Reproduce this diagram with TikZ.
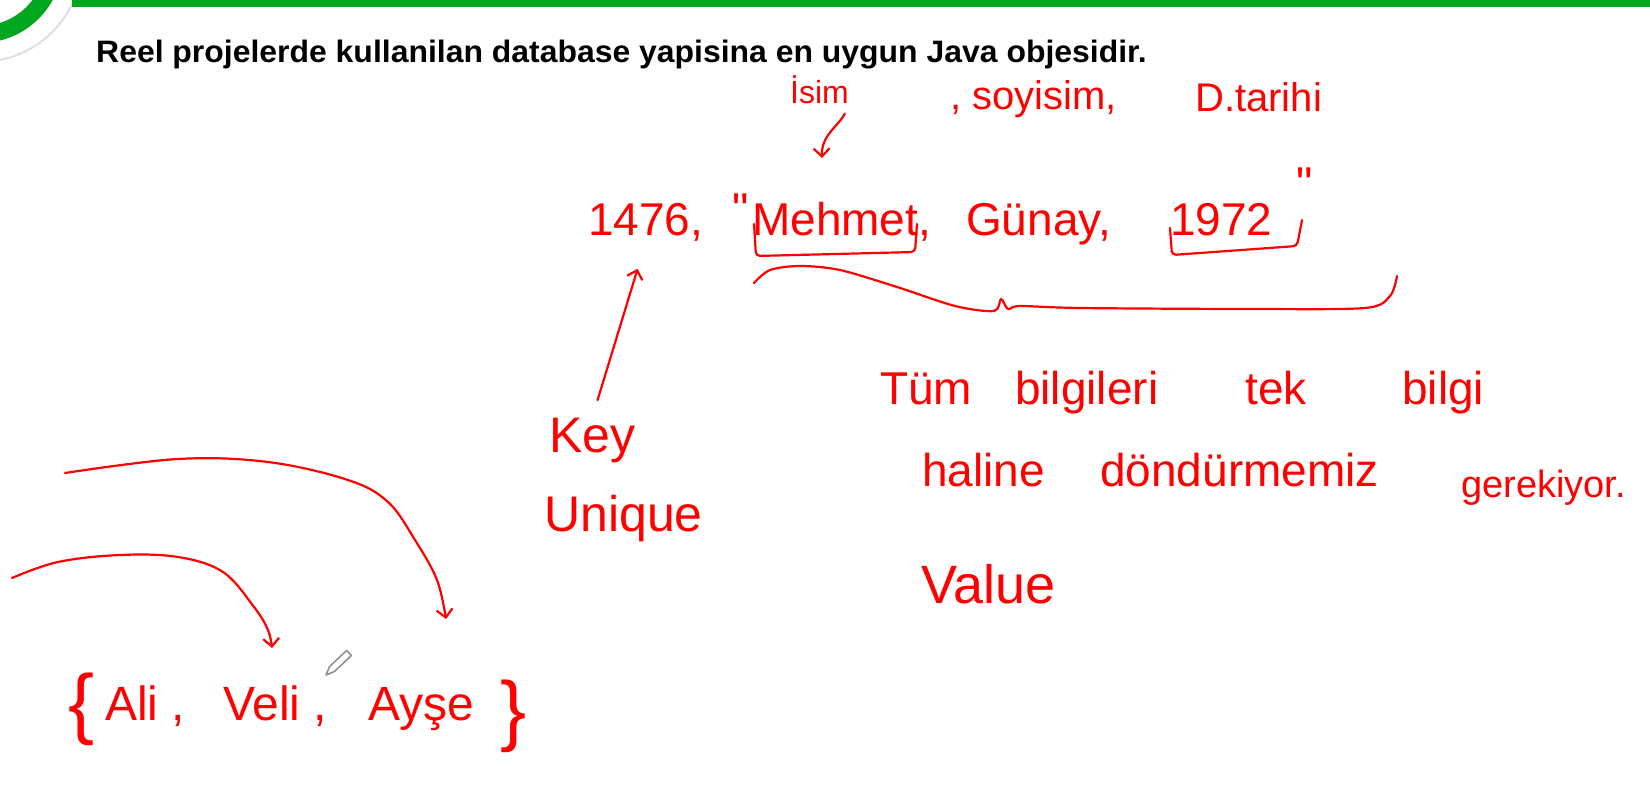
\documentclass[tikz,border=0pt]{standalone}
\usepackage{fontspec}
\usetikzlibrary{arrows.meta}
\newfontfamily\handfont{Liberation Sans}
\newfontfamily\titlefont{Liberation Sans}
\definecolor{slidegreen}{RGB}{0,166,30}
\definecolor{inkred}{RGB}{255,0,0}
\begin{document}
\begin{tikzpicture}[x=1pt, y=-1pt,
        hand/.style={text=inkred, inner sep=0pt, anchor=base west, font=\handfont\fontsize{#1}{#1}\selectfont},
        hand/.default=46,
        ink/.style={draw=inkred, line width=2.2pt, line cap=round, line join=round},
        arr/.style={ink, -{Straight Barb[length=8pt,width=16pt]}}]
    \useasboundingbox (0,0) rectangle (1650,810);
    \fill[white] (0,0) rectangle (1650,810);
    \begin{scope}
        \clip (0,0) rectangle (1650,810);
        \fill[slidegreen, even odd rule] (-20,-40) circle (83) circle (66);
        \draw[black!12, line width=2pt] (-20,-40) circle (102);
    \end{scope}
    \fill[slidegreen] (72,0) rectangle (1650,7);
    \node[anchor=base west, inner sep=0pt, font=\titlefont\bfseries\fontsize{31}{31}\selectfont] (title) at (96,63) {\scalebox{1.03}[1]{Reel projelerde kullanilan database yapisina en uygun Java objesidir.}};

    \node[hand=32] (isim) at (790,104) {İsim};
    \node[hand=40] (soyisim) at (950,110) {, soyisim,};
    \node[hand=40] (dtarihi) at (1195,112) {D.tarihi};

    \node[hand] (id) at (588,236) {1476,};
    \node[hand] (qopen) at (732,226) {"};
    \node[hand] (name) at (752,236) {Mehmet,};
    \node[hand] (surname) at (966,236) {Günay,};
    \node[hand] (year) at (1170,236) {1972};
    \node[hand] (qclose) at (1296,200) {"};

    \coordinate (isimtip) at (822,158);
    \draw[arr, shorten <=10pt] (isim.south east) to[out=245, in=92] (isimtip);
    \draw[ink, rounded corners=4pt] (754,224) -- (756,256) -- (915,252) -- (917,224);
    \draw[ink, rounded corners=4pt] (1170,228) -- (1172,255) -- (1297,246) -- (1302,220);
    \draw[ink] plot[smooth, tension=0.5] coordinates {(754,283) (770,270) (800,266) (840,270) (897,287) (955,306) (994,311) (1001,299) (1008,309) (1020,306) (1080,308) (1250,309) (1365,308) (1390,296) (1397,276)};

    \node[hand=50] (key) at (549,452) {Key};
    \node[hand=50] (unique) at (544,531) {Unique};
    \draw[arr, shorten <=18pt, shorten >=28pt] (key.north) -- (id.south);

    \node[hand] (tum) at (880,405) {Tüm};
    \node[hand] (bilgileri) at (1015,405) {bilgileri};
    \node[hand] (tek) at (1245,405) {tek};
    \node[hand] (bilgi) at (1402,405) {bilgi};
    \node[hand] (haline) at (922,486) {haline};
    \node[hand] (dondur) at (1100,486) {döndürmemiz};
    \node[hand=38] (gerek) at (1461,497) {gerekiyor.};
    \node[hand=54] (value) at (921,603) {Value};

    \node[hand=78] (lbrace) at (68,729) {\{};
    \node[hand=48] (ali) at (105,720) {Ali ,};
    \node[hand=48] (veli) at (223,720) {Veli ,};
    \node[hand=48] (ayse) at (368,720) {Ayşe};
    \node[hand=78] (rbrace) at (500,736) {\}};

    \coordinate (outerstart) at (65,473);
    \coordinate (innerstart) at (12,578);
    \coordinate (aysetip) at (446,619);
    \coordinate (velitip) at (272,648);
    \draw[arr] plot[smooth, tension=0.6] coordinates {(outerstart) (178,459) (268,462) (348,480) (388,502) (415,540) (437,580) (aysetip)};
    \draw[arr] plot[smooth, tension=0.6] coordinates {(innerstart) (58,562) (120,555) (178,557) (223,572) (254,607) (268,630) (velitip)};

    \draw[black!45, line width=1.5pt, fill=white, line join=round] (326,675) -- (334.4,671.5) -- (351.4,655.5) -- (346.6,650.5) -- (329.6,666.5) -- cycle;
\end{tikzpicture}
\end{document}
